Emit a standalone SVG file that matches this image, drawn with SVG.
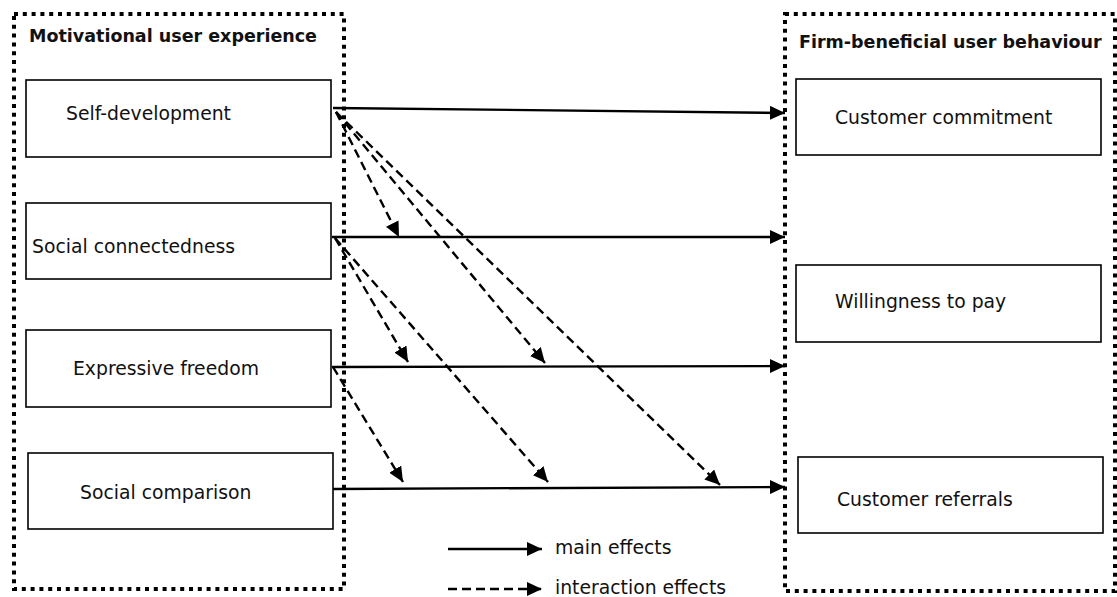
<svg xmlns="http://www.w3.org/2000/svg" width="1117" height="597" viewBox="0 0 1117 597">
  <defs>
    <marker id="head" viewBox="0 0 15 14" refX="15" refY="7" markerWidth="15" markerHeight="14" markerUnits="userSpaceOnUse" orient="auto">
      <path d="M0,0 L15,7 L0,14 Z" fill="#000"/>
    </marker>
    <style>
      .frame { fill: none; stroke: #000; stroke-width: 4; stroke-dasharray: 4 4.8; }
      .box { fill: #fff; stroke: #000; stroke-width: 1.6; }
      .title { font-family: "DejaVu Sans", Verdana, sans-serif; font-weight: bold; font-size: 17.5px; fill: #111; }
      .label { font-family: "DejaVu Sans", Verdana, sans-serif; font-size: 18.8px; fill: #111; }
      .main { fill: none; stroke: #000; stroke-width: 2.3; marker-end: url(#head); }
      .inter { fill: none; stroke: #000; stroke-width: 2.4; stroke-dasharray: 9 5; marker-end: url(#head); }
    </style>
  </defs>

  <!-- construct groups -->
  <g id="group-motivational">
    <rect class="frame" x="14" y="14" width="330" height="575"/>
    <text class="title" x="29" y="42">Motivational user experience</text>
  </g>
  <g id="group-firm">
    <rect class="frame" x="785" y="14" width="330" height="577"/>
    <text class="title" x="799" y="48">Firm-beneficial user behaviour</text>
  </g>

  <!-- predictors -->
  <g id="self-development">
    <rect class="box" x="26" y="80" width="305" height="77"/>
    <text class="label" x="66" y="120">Self-development</text>
  </g>
  <g id="social-connectedness">
    <rect class="box" x="26" y="203" width="305" height="76"/>
    <text class="label" x="32" y="253">Social connectedness</text>
  </g>
  <g id="expressive-freedom">
    <rect class="box" x="26" y="330" width="305" height="77"/>
    <text class="label" x="73" y="375">Expressive freedom</text>
  </g>
  <g id="social-comparison">
    <rect class="box" x="28" y="453" width="305" height="76"/>
    <text class="label" x="80" y="499">Social comparison</text>
  </g>

  <!-- outcomes -->
  <g id="customer-commitment">
    <rect class="box" x="796" y="79" width="305" height="76"/>
    <text class="label" x="835" y="124">Customer commitment</text>
  </g>
  <g id="willingness-to-pay">
    <rect class="box" x="796" y="265" width="305" height="77"/>
    <text class="label" x="835" y="308">Willingness to pay</text>
  </g>
  <g id="customer-referrals">
    <rect class="box" x="798" y="457" width="305" height="76"/>
    <text class="label" x="837" y="506">Customer referrals</text>
  </g>

  <!-- effects -->
  <g id="connectors">
    <line class="main" x1="333" y1="108" x2="785" y2="113"/>
    <line class="main" x1="332" y1="237" x2="785" y2="237"/>
    <line class="main" x1="332" y1="367" x2="785" y2="366"/>
    <line class="main" x1="333" y1="489" x2="785" y2="487"/>

    <line class="inter" x1="336" y1="112" x2="399" y2="237"/>
    <line class="inter" x1="336" y1="112" x2="545" y2="363"/>
    <line class="inter" x1="336" y1="112" x2="720" y2="485"/>
    <line class="inter" x1="335" y1="238" x2="408" y2="362"/>
    <line class="inter" x1="335" y1="238" x2="548" y2="482"/>
    <line class="inter" x1="333" y1="367" x2="403" y2="482"/>
  </g>

  <!-- key -->
  <g id="legend">
    <line class="main" x1="448" y1="549" x2="542" y2="549"/>
    <text class="label" x="555" y="554">main effects</text>
    <line class="inter" x1="448" y1="589" x2="542" y2="589"/>
    <text class="label" x="555" y="594">interaction effects</text>
  </g>
</svg>
